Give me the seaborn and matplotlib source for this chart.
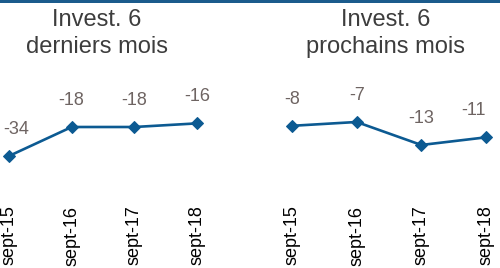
import matplotlib
matplotlib.use("Agg")
import matplotlib.pyplot as plt
import seaborn as sns
import pandas as pd
from matplotlib.patches import Rectangle

sns.set_style("white")
plt.rcParams['font.family'] = ['Liberation Sans', 'DejaVu Sans']

categories = ['sept-15', 'sept-16', 'sept-17', 'sept-18']
derniers = [-34, -18, -18, -16]
prochains = [-8, -7, -13, -11]
titles = [("Invest. 6", "derniers mois"), ("Invest. 6", "prochains mois")]

W, H = 500, 268
fig = plt.figure(figsize=(W / 100, H / 100), dpi=100)

line_color = '#0c5a92'
label_color = '#6e6462'
title_color = '#3d3d3d'

# top border
fig.add_artist(Rectangle((0, 1 - 3 / H), 1, 3 / H, transform=fig.transFigure,
                         color='#1b5b8c', lw=0))

ax_bottom_px, ax_top_px = 200, 60
panels = [
    dict(data=derniers, left=0, xlim=(-0.1436, 3.846), ylim=(-58.28, 18.97),
         title_x=97, label_dx=[5, 0, 0, 0]),
    dict(data=prochains, left=250, xlim=(-0.649, 3.216), ylim=(-27.35, 9.17),
         title_x=386, label_dx=[0, 0, 0, -9]),
]

for p, (t1, t2) in zip(panels, titles):
    ax = fig.add_axes([p['left'] / W, (H - ax_bottom_px) / H, 250 / W,
                       (ax_bottom_px - ax_top_px) / H])
    df = pd.DataFrame({'x': range(len(categories)), 'y': p['data']})
    sns.lineplot(data=df, x='x', y='y', ax=ax, color=line_color, linewidth=1.9,
                 marker='D', markersize=6.3, markeredgecolor=line_color,
                 clip_on=False)
    ax.set_xlim(*p['xlim'])
    ax.set_ylim(*p['ylim'])
    for i, v in enumerate(p['data']):
        ax.annotate(f"{v}", (i, v), xytext=(p['label_dx'][i], 19),
                    textcoords='offset points', ha='center', va='center',
                    fontsize=13, color=label_color)
    ax.set_xticks(range(len(categories)))
    ax.set_xticklabels(categories, rotation=90, fontsize=13, color='black')
    ax.tick_params(axis='x', length=0, pad=4)
    ax.set_yticks([])
    ax.set_xlabel('')
    ax.set_ylabel('')
    for s in ax.spines.values():
        s.set_visible(False)
    ax.patch.set_alpha(0)
    fig.text(p['title_x'] / W, 1 - 26 / H, t1, ha='center', va='baseline',
             fontsize=17, color=title_color)
    fig.text(p['title_x'] / W, 1 - 53 / H, t2, ha='center', va='baseline',
             fontsize=17, color=title_color)

fig.savefig('out.png', dpi=100)
